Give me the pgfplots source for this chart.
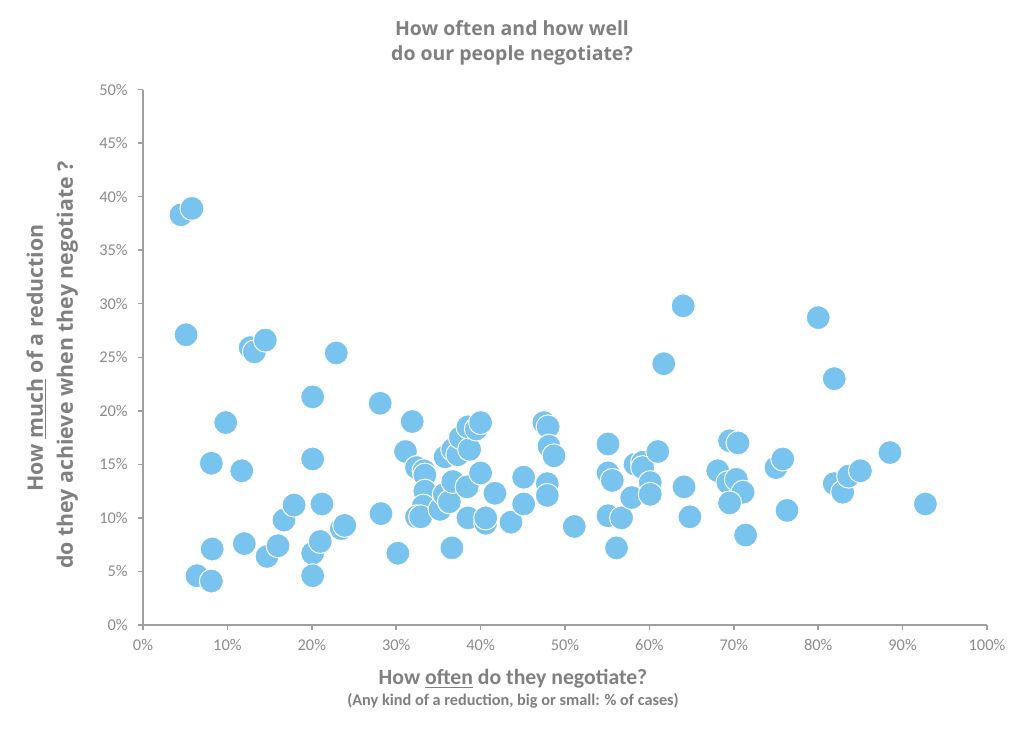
\documentclass[border=0pt]{standalone}
\usepackage{fontspec}
\setmainfont{Carlito}
\newfontfamily\segoe{Open Sans}
\usepackage{pgfplots}
\pgfplotsset{compat=1.18}
\definecolor{dot}{RGB}{121,196,238}
\definecolor{labgray}{RGB}{128,128,128}
\definecolor{tickgray}{RGB}{140,140,140}
\definecolor{axgray}{RGB}{160,160,160}
\begin{document}
\begin{tikzpicture}
\begin{axis}[
    at={(0,0)}, anchor=south west,
    scale only axis,
    width=633pt, height=401.6pt,
    xmin=0, xmax=100, ymin=0, ymax=50,
    enlargelimits=false,
    axis x line=bottom, axis y line=left,
    axis line style={-, axgray, line width=1.1pt},
    tick style={axgray, line width=1.1pt},
    tick align=outside,
    major tick length=4pt,
    xtick={0,10,...,100}, ytick={0,5,...,50},
    xticklabel={\pgfmathprintnumber{\tick}\%},
    yticklabel={\pgfmathprintnumber{\tick}\%},
    /pgf/number format/assume math mode=true,
    ticklabel style={font=\fontsize{12.3}{14}\selectfont, text=tickgray},
    xticklabel style={yshift=-3pt},
    yticklabel style={xshift=-4pt},
  ]
  \addplot[only marks, mark=*, mark size=9pt,
    mark options={fill=dot, draw=white, line width=0.75pt}] coordinates {
    (4.5,38.3) (5.8,38.9) (5.1,27.1) (6.4,4.6) (8.1,4.1) (8.2,7.1)
    (8.1,15.1) (9.8,18.9) (11.7,14.4) (12.0,7.6) (12.7,25.9) (13.2,25.5)
    (14.5,26.6) (14.7,6.4) (16.0,7.4) (16.7,9.8) (17.9,11.2) (20.1,21.3)
    (20.1,15.5) (20.1,6.7) (20.1,4.6) (21.0,7.8) (21.2,11.3) (22.9,25.4)
    (23.5,9.0) (23.9,9.3) (28.1,20.7) (28.2,10.4) (30.2,6.7) (31.1,16.2)
    (31.9,19.0) (32.4,14.7) (33.3,14.4) (33.4,14.0) (33.4,12.5) (33.2,11.1)
    (32.4,10.1) (32.9,10.1) (35.2,10.8) (35.7,12.2) (36.3,11.5) (36.6,7.2)
    (36.7,13.4) (35.8,15.7) (36.7,16.4) (37.3,15.9) (37.6,17.5) (38.4,12.9)
    (38.5,10.0) (38.7,16.4) (38.5,18.5) (39.5,18.3) (40.0,18.9) (40.0,14.2)
    (40.6,9.5) (40.6,10.0) (41.7,12.3) (43.6,9.6) (45.1,13.8) (45.1,11.3)
    (47.5,18.9) (48.0,18.5) (48.1,16.7) (48.7,15.8) (47.9,13.2) (47.9,12.1)
    (51.1,9.2) (55.1,16.9) (55.1,14.2) (55.6,13.5) (55.1,10.2) (56.1,7.2)
    (56.7,10.0) (57.9,11.9) (58.3,15.0) (59.2,15.2) (59.2,14.7) (60.1,13.3)
    (60.1,12.2) (61.0,16.2) (61.7,24.4) (64.0,29.8) (64.1,12.9) (64.8,10.1)
    (68.1,14.4) (69.5,17.2) (70.5,17.0) (69.3,13.3) (70.3,13.6) (71.1,12.4)
    (69.5,11.4) (71.4,8.4) (75.0,14.7) (75.8,15.5) (76.3,10.7) (80.0,28.7)
    (81.9,23.0) (81.9,13.2) (82.9,12.4) (83.6,13.9) (85.0,14.4) (88.5,16.1)
    (92.7,11.3)
  };
\end{axis}
% title
\node[anchor=base, text=labgray, font=\segoe\bfseries\fontsize{14.6}{17}\selectfont]
  at (276.75pt,442pt) {How often and how well};
\node[anchor=base, text=labgray, font=\segoe\bfseries\fontsize{14.6}{17}\selectfont]
  at (276.75pt,423pt) {do our people negotiate?};
% x label
\node[anchor=base, text=labgray, font=\bfseries\fontsize{16.3}{19}\selectfont]
  at (277.5pt,-45pt) {How \underline{often} do they negotiate?};
\node[anchor=base, text=labgray, font=\bfseries\fontsize{12.2}{14}\selectfont]
  at (277.5pt,-60.5pt) {(Any kind of a reduction, big or small: \% of cases)};
% y label
\node[anchor=base, rotate=90, text=labgray, font=\segoe\bfseries\fontsize{16}{19}\selectfont]
  at (-75pt,200.25pt) {How \underline{much} of a reduction};
\node[anchor=base, rotate=90, text=labgray, font=\segoe\bfseries\fontsize{16}{19}\selectfont]
  at (-52.5pt,195pt) {do they achieve when they negotiate ?};
\path (-107.25pt,-78.75pt) rectangle (660.75pt,468.75pt);
\end{tikzpicture}
\end{document}
